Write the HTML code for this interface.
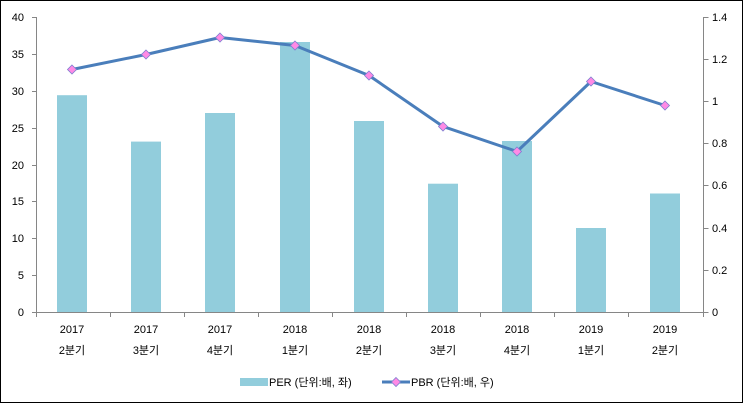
<!DOCTYPE html>
<html><head><meta charset="utf-8"><style>
html,body{margin:0;padding:0;background:#fff}
svg{display:block}
text{font-family:"Liberation Sans","Noto Sans CJK KR",sans-serif;font-size:11px;fill:#000}
</style></head><body>
<svg width="743" height="403" viewBox="0 0 743 403" xmlns="http://www.w3.org/2000/svg">
<rect x="0.5" y="0.5" width="742" height="402" fill="#fff" stroke="#000"/>
<g fill="#92CDDC">
<rect x="57" y="95.2" width="30" height="216.8"/>
<rect x="131" y="141.6" width="30" height="170.4"/>
<rect x="205" y="113" width="30" height="199"/>
<rect x="280" y="42" width="30" height="270"/>
<rect x="354" y="121" width="30" height="191"/>
<rect x="428" y="183.7" width="30" height="128.3"/>
<rect x="502" y="141" width="30" height="171"/>
<rect x="576" y="228" width="30" height="84"/>
<rect x="650" y="193.5" width="30" height="118.5"/>
</g>
<g stroke="#868686" stroke-width="1" fill="none">
<path d="M36.5 17V312.5H703.5V17"/>
<path d="M32 17.5h4.5M32 54.5h4.5M32 91.5h4.5M32 128.5h4.5M32 165.5h4.5M32 201.5h4.5M32 238.5h4.5M32 275.5h4.5M32 312.5h4.5"/>
<path d="M703.5 17.5h5M703.5 59.5h5M703.5 101.5h5M703.5 143.5h5M703.5 185.5h5M703.5 228.5h5M703.5 270.5h5M703.5 312.5h5"/>
<path d="M36.5 312v5M110.5 312v5M184.5 312v5M258.5 312v5M332.5 312v5M406.5 312v5M480.5 312v5M554.5 312v5M628.5 312v5M703.5 312v5"/>
</g>
<g text-anchor="end">
<text x="24" y="21">40</text><text x="24" y="58">35</text><text x="24" y="95">30</text><text x="24" y="132">25</text><text x="24" y="169">20</text><text x="24" y="205">15</text><text x="24" y="242">10</text><text x="24" y="279">5</text><text x="24" y="316">0</text>
</g>
<g>
<text x="712" y="21">1.4</text><text x="712" y="63">1.2</text><text x="712" y="105">1</text><text x="712" y="147">0.8</text><text x="712" y="189">0.6</text><text x="712" y="232">0.4</text><text x="712" y="274">0.2</text><text x="712" y="316">0</text>
</g>
<g text-anchor="middle">
<text x="72" y="333">2017</text><text x="72" y="354">2분기</text>
<text x="146" y="333">2017</text><text x="146" y="354">3분기</text>
<text x="220" y="333">2017</text><text x="220" y="354">4분기</text>
<text x="295" y="333">2018</text><text x="295" y="354">1분기</text>
<text x="369" y="333">2018</text><text x="369" y="354">2분기</text>
<text x="443" y="333">2018</text><text x="443" y="354">3분기</text>
<text x="517" y="333">2018</text><text x="517" y="354">4분기</text>
<text x="591" y="333">2019</text><text x="591" y="354">1분기</text>
<text x="665" y="333">2019</text><text x="665" y="354">2분기</text>
</g>
<polyline fill="none" stroke="#4A7EBB" stroke-width="3" stroke-linejoin="round" points="72,69.5 146,54.5 220,37.5 295,45.5 369,75.5 443,126.5 517,151.5 591,81.5 665,105.5"/>
<g fill="#FF8AE5" stroke="#7F7FD0" stroke-width="0.8">
<path d="M72 65l4.5 4.5-4.5 4.5-4.5-4.5z"/>
<path d="M146 50l4.5 4.5-4.5 4.5-4.5-4.5z"/>
<path d="M220 33l4.5 4.5-4.5 4.5-4.5-4.5z"/>
<path d="M295 41l4.5 4.5-4.5 4.5-4.5-4.5z"/>
<path d="M369 71l4.5 4.5-4.5 4.5-4.5-4.5z"/>
<path d="M443 122l4.5 4.5-4.5 4.5-4.5-4.5z"/>
<path d="M517 147l4.5 4.5-4.5 4.5-4.5-4.5z"/>
<path d="M591 77l4.5 4.5-4.5 4.5-4.5-4.5z"/>
<path d="M665 101l4.5 4.5-4.5 4.5-4.5-4.5z"/>
</g>
<rect x="240" y="378" width="28" height="8" fill="#92CDDC"/>
<text x="269" y="386">PER (단위:배, 좌)</text>
<line x1="382" y1="382" x2="410" y2="382" stroke="#4A7EBB" stroke-width="3"/>
<path d="M396 377.5l4.5 4.5-4.5 4.5-4.5-4.5z" fill="#FF8AE5" stroke="#7F7FD0" stroke-width="0.8"/>
<text x="411" y="386">PBR (단위:배, 우)</text>
</svg>
</body></html>
